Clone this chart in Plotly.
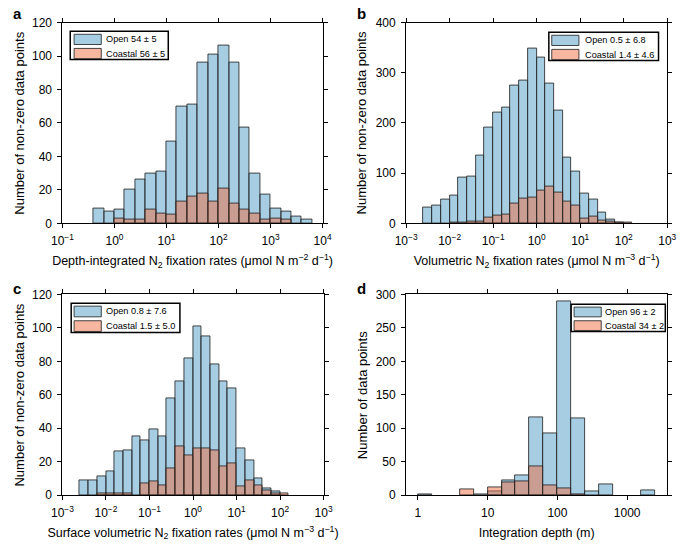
import plotly.graph_objects as go

# ---------------- data ----------------
# histogram counts, bins are 0.2 wide in log10 units
a_first_edge = -0.4
a_open = [9, 7, 8, 20, 26, 30, 31, 49, 70, 71, 96, 101, 106, 96, 57, 30, 17, 9, 7, 4, 2]
a_coastal = [0, 0, 3, 2, 2, 8, 6, 5, 13, 16, 18, 13, 21, 12, 8, 6, 2, 3, 2, 0, 0]

b_first_edge = -2.6
b_open = [31, 36, 48, 55, 92, 94, 134, 190, 220, 230, 275, 285, 348, 330, 278, 225,
          131, 104, 60, 47, 21, 8, 2, 0]
b_coastal = [0, 0, 0, 1, 1, 3, 3, 12, 16, 18, 39, 50, 52, 65, 74, 61,
             43, 36, 10, 13, 6, 3, 2, 1]

c_first_edge = -2.6
c_open = [9, 9, 11, 14, 26, 27, 35, 33, 39, 35, 58, 68, 82, 101, 95, 78,
          68, 64, 28, 21, 10, 4, 2, 0]
c_coastal = [0, 0, 1, 1, 1, 1, 0, 7, 8, 6, 16, 29, 24, 28, 28, 27,
             17, 19, 5, 9, 6, 3, 1, 1]

d_first_edge = 0.0
d_open = [1, 0, 0, 0, 1, 6, 22, 29, 116, 92, 290, 114, 5, 16, 0, 0, 7]
d_coastal = [0, 0, 0, 8, 0, 12, 19, 21, 43, 15, 10, 1, 0, 0, 0, 0, 0]

bin_width = 0.2

a_legend = ["Open 54 ± 5", "Coastal 56 ± 5"]
b_legend = ["Open 0.5 ± 6.8", "Coastal 1.4 ± 4.6"]
c_legend = ["Open 0.8 ± 7.6", "Coastal 1.5 ± 5.0"]
d_legend = ["Open 96 ± 2", "Coastal 34 ± 2"]

a_xticks = [-1, 0, 1, 2, 3, 4]
bc_xticks = [-3, -2, -1, 0, 1, 2, 3]
d_xticks = [0, 1, 2, 3]
d_xticklabels = ["1", "10", "100", "1000"]

a_yticks = [0, 20, 40, 60, 80, 100, 120]
b_yticks = [0, 100, 200, 300, 400]
d_yticks = [0, 50, 100, 150, 200, 250, 300]

# ---------------- style ----------------
W, H = 685, 546
FONT = "Liberation Sans, Arial, Helvetica, sans-serif"
BLUE = "rgba(77,155,197,0.5)"
SALMON = "rgba(237,109,65,0.5)"
EDGE = "rgba(40,40,40,0.85)"


def px(x):
    return x / W


def py(y):
    return 1 - y / H


def pow_label(e):
    return "10<sup>%s</sup>" % str(e).replace("-", "\u2212")


fig = go.Figure()

panels = [
    # counts, first edge, axis suffix, x range, pixel box (l, r, t, b)
    (a_open, a_coastal, a_first_edge, "", [-1, 4], (53, 321, 16, 222)),
    (b_open, b_coastal, b_first_edge, "2", [-3, 3], (407, 676, 16, 222)),
    (c_open, c_coastal, c_first_edge, "3", [-3, 3], (53, 322, 295, 501)),
    (d_open, d_coastal, d_first_edge, "4", [-0.17, 3.575], (407, 676, 295, 501)),
]

for op, co, first, sfx, xr, box in panels:
    for counts, col in [(op, BLUE), (co, SALMON)]:
        xs, ys = [], []
        for i, v in enumerate(counts):
            if v > 0:
                xs.append(first + bin_width * (i + 0.5))
                ys.append(v)
        fig.add_trace(go.Bar(
            x=xs, y=ys, width=bin_width,
            marker=dict(color=col, line=dict(color=EDGE, width=1)),
            xaxis="x" + sfx, yaxis="y" + sfx, showlegend=False,
        ))

axis_common = dict(
    showline=True, linecolor="black", linewidth=1, mirror="ticks",
    ticks="outside", ticklen=4, tickcolor="black", tickwidth=1,
    showgrid=False, zeroline=False,
    tickfont=dict(family=FONT, size=12, color="black"),
)

xtitles = [
    "Depth-integrated N<sub>2</sub> fixation rates (\u03bcmol N m<sup>\u22122</sup> d<sup>\u22121</sup>)",
    "Volumetric N<sub>2</sub> fixation rates (\u03bcmol N m<sup>\u22123</sup> d<sup>\u22121</sup>)",
    "Surface volumetric N<sub>2</sub> fixation rates (\u03bcmol N m<sup>\u22123</sup> d<sup>\u22121</sup>)",
    "Integration depth (m)",
]
ytitles = ["Number of non-zero data points"] * 3 + ["Number of data points"]
ytitle_x = [9, 361, 9, 362]
xticks = [
    (a_xticks, [pow_label(e) for e in a_xticks]),
    (bc_xticks, [pow_label(e) for e in bc_xticks]),
    (bc_xticks, [pow_label(e) for e in bc_xticks]),
    (d_xticks, d_xticklabels),
]
yticks = [a_yticks, b_yticks, a_yticks, d_yticks]

layout = {}
for k, (op, co, first, sfx, xr, box) in enumerate(panels):
    l, r, t, b = box
    yt = yticks[k]
    layout["xaxis" + sfx] = dict(
        axis_common, domain=[px(l), px(r)], range=xr, anchor="y" + sfx,
        tickvals=xticks[k][0], ticktext=xticks[k][1], ticklabelstandoff=2,
        title=dict(text=xtitles[k], font=dict(family=FONT, size=12.5, color="black"),
                   standoff=9),
    )
    layout["yaxis" + sfx] = dict(
        axis_common, domain=[py(b), py(t)], range=[0, yt[-1]], anchor="x" + sfx,
        tickvals=yt, ticklabelstandoff=3,
    )
    fig.add_annotation(xref="paper", yref="paper", x=px(ytitle_x[k]), y=py((t + b) / 2),
                       text=ytitles[k], textangle=-90, showarrow=False,
                       xanchor="center", yanchor="middle",
                       font=dict(family=FONT, size=13, color="black"))

fig.update_layout(**layout)

# ---------------- legends (drawn by hand, boxed) ----------------
legend_boxes = [
    # box l, r, t, b ; swatch l, r ; text x
    (a_legend, (61, 162, 25, 54), (65, 93), 96),
    (b_legend, (554, 667, 26, 55), (557, 585), 589),
    (c_legend, (62, 174, 304, 334), (65, 93), 96),
    (d_legend, (577, 674, 305, 333), (580, 608), 610),
]
for labels, (l, r, t, b), (sl, sr), tx in legend_boxes:
    fig.add_shape(type="rect", xref="paper", yref="paper",
                  x0=px(l), x1=px(r), y0=py(b), y1=py(t),
                  line=dict(color="black", width=1.5), fillcolor="white", layer="above")
    rowh = (b - t) / 2
    for j, (lab, col) in enumerate(zip(labels, [BLUE, SALMON])):
        y0 = t + 3 + j * rowh
        y1 = t + rowh - 1 + j * rowh
        fig.add_shape(type="rect", xref="paper", yref="paper",
                      x0=px(sl), x1=px(sr), y0=py(y1), y1=py(y0),
                      line=dict(color=EDGE, width=1), fillcolor=col, layer="above")
        fig.add_annotation(xref="paper", yref="paper", x=px(tx), y=py((y0 + y1) / 2),
                           text=lab, showarrow=False, xanchor="left", yanchor="middle",
                           font=dict(family=FONT, size=9.2, color="black"))

# panel letters
for letter, x, y in [("a", 0, 7), ("b", 354, 7), ("c", 0, 289), ("d", 354, 289)]:
    fig.add_annotation(xref="paper", yref="paper", x=px(x), y=py(y), text="<b>%s</b>" % letter,
                       showarrow=False, xanchor="left", yanchor="middle",
                       font=dict(family=FONT, size=15, color="black"))

fig.update_layout(
    width=W, height=H, barmode="overlay", bargap=0,
    margin=dict(l=0, r=0, t=0, b=0),
    paper_bgcolor="white", plot_bgcolor="white",
    showlegend=False,
    font=dict(family=FONT, color="black"),
)

# the page body has a default 8px margin; drop it so the figure fills the window
fig.write_html("out.html", config={"displayModeBar": False},
               post_script="document.body.style.margin='0';")
